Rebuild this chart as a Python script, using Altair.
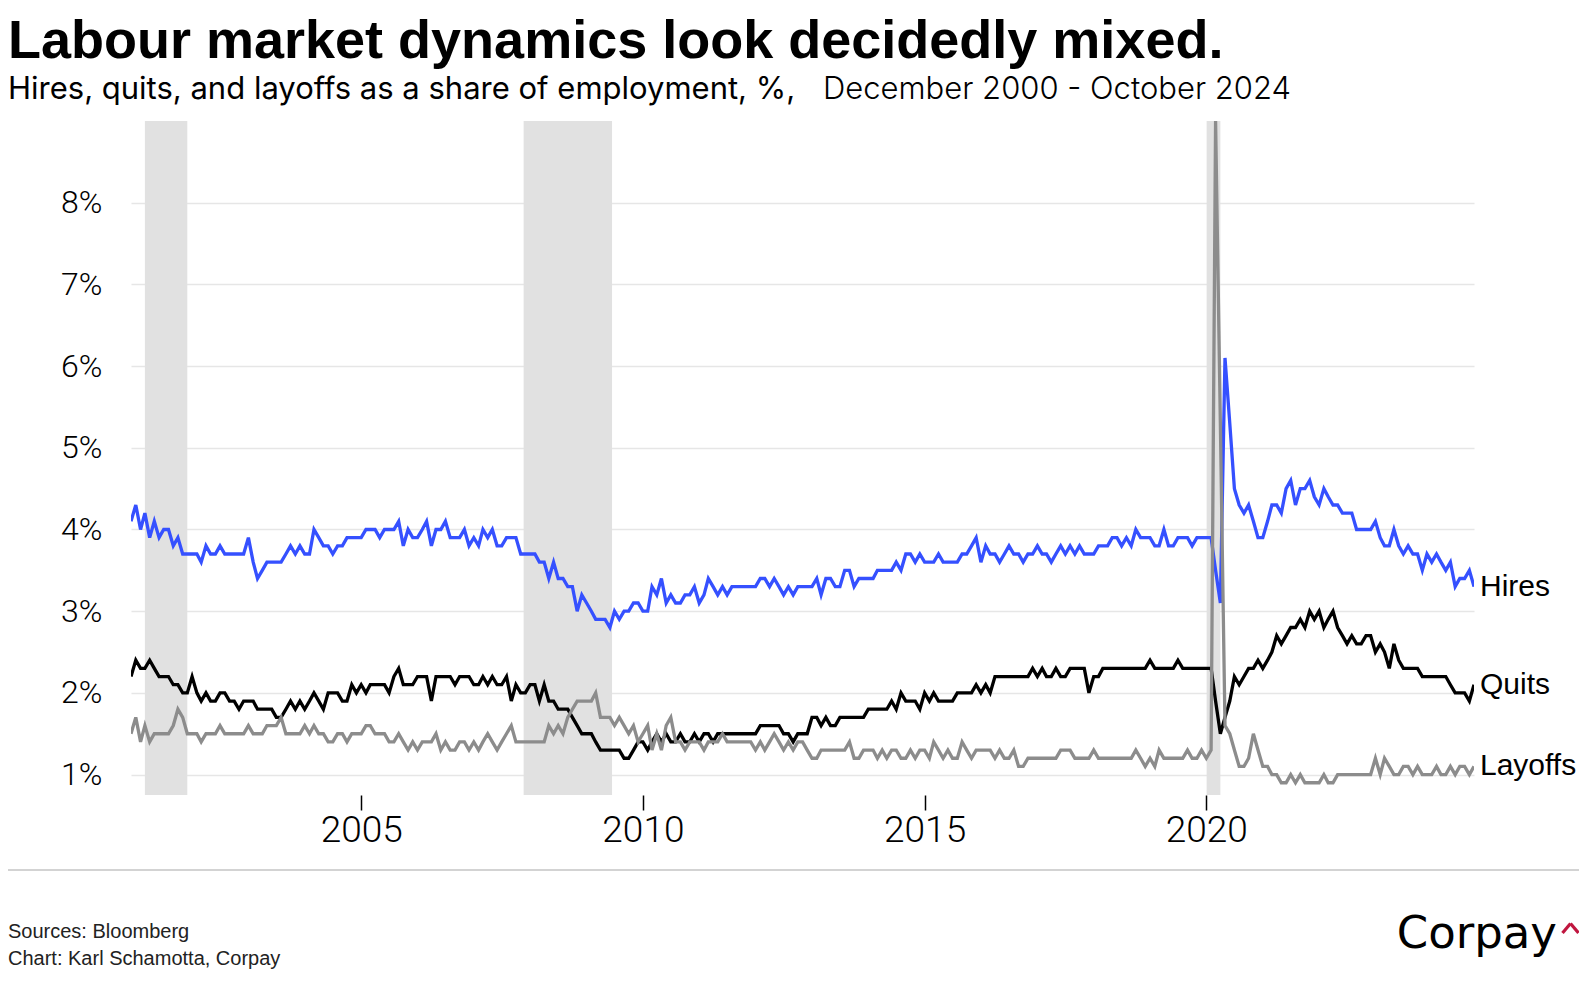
import altair as alt
import pandas as pd

# ---------------- data (monthly, Dec 2000 - Oct 2024) ----------------
months = pd.date_range("2000-12-01", periods=287, freq="MS").strftime("%Y-%m-%dT00:00:00").tolist()

hires = [
    4.1, 4.3, 4.0, 4.2, 3.9, 4.1, 3.9, 4.0, 4.0, 3.8, 3.9, 3.7,
    3.7, 3.7, 3.7, 3.6, 3.8, 3.7, 3.7, 3.8, 3.7, 3.7, 3.7, 3.7,
    3.7, 3.9, 3.6, 3.4, 3.5, 3.6, 3.6, 3.6, 3.6, 3.7, 3.8, 3.7,
    3.8, 3.7, 3.7, 4.0, 3.9, 3.8, 3.8, 3.7, 3.8, 3.8, 3.9, 3.9,
    3.9, 3.9, 4.0, 4.0, 4.0, 3.9, 4.0, 4.0, 4.0, 4.1, 3.8, 4.0,
    3.9, 3.9, 4.0, 4.1, 3.8, 4.0, 4.0, 4.1, 3.9, 3.9, 3.9, 4.0,
    3.8, 3.9, 3.8, 4.0, 3.9, 4.0, 3.8, 3.8, 3.9, 3.9, 3.9, 3.7,
    3.7, 3.7, 3.7, 3.6, 3.6, 3.4, 3.6, 3.4, 3.4, 3.3, 3.3, 3.0,
    3.2, 3.1, 3.0, 2.9, 2.9, 2.9, 2.8, 3.0, 2.9, 3.0, 3.0, 3.1,
    3.1, 3.0, 3.0, 3.3, 3.2, 3.4, 3.1, 3.2, 3.1, 3.1, 3.2, 3.2,
    3.3, 3.1, 3.2, 3.4, 3.3, 3.2, 3.3, 3.2, 3.3, 3.3, 3.3, 3.3,
    3.3, 3.3, 3.4, 3.4, 3.3, 3.4, 3.3, 3.2, 3.3, 3.2, 3.3, 3.3,
    3.3, 3.3, 3.4, 3.2, 3.4, 3.4, 3.3, 3.3, 3.5, 3.5, 3.3, 3.4,
    3.4, 3.4, 3.4, 3.5, 3.5, 3.5, 3.5, 3.6, 3.5, 3.7, 3.7, 3.6,
    3.7, 3.6, 3.6, 3.6, 3.7, 3.6, 3.6, 3.6, 3.6, 3.7, 3.7, 3.8,
    3.9, 3.6, 3.8, 3.7, 3.7, 3.6, 3.7, 3.8, 3.7, 3.7, 3.6, 3.7,
    3.7, 3.8, 3.7, 3.7, 3.6, 3.7, 3.8, 3.7, 3.8, 3.7, 3.8, 3.7,
    3.7, 3.7, 3.8, 3.8, 3.8, 3.9, 3.9, 3.8, 3.9, 3.8, 4.0, 3.9,
    3.9, 3.9, 3.8, 3.8, 4.0, 3.8, 3.8, 3.9, 3.9, 3.9, 3.8, 3.9,
    3.9, 3.9, 3.9, 3.5, 3.1, 6.1, 5.3, 4.5, 4.3, 4.2, 4.3, 4.1,
    3.9, 3.9, 4.1, 4.3, 4.3, 4.2, 4.5, 4.6, 4.3, 4.5, 4.5, 4.6,
    4.4, 4.3, 4.5, 4.4, 4.3, 4.3, 4.2, 4.2, 4.2, 4.0, 4.0, 4.0,
    4.0, 4.1, 3.9, 3.8, 3.8, 4.0, 3.8, 3.7, 3.8, 3.7, 3.7, 3.5,
    3.7, 3.6, 3.7, 3.6, 3.5, 3.6, 3.3, 3.4, 3.4, 3.5, 3.3,
]

quits = [
    2.2, 2.4, 2.3, 2.3, 2.4, 2.3, 2.2, 2.2, 2.2, 2.1, 2.1, 2.0,
    2.0, 2.2, 2.0, 1.9, 2.0, 1.9, 1.9, 2.0, 2.0, 1.9, 1.9, 1.8,
    1.9, 1.9, 1.9, 1.8, 1.8, 1.8, 1.8, 1.7, 1.7, 1.8, 1.9, 1.8,
    1.9, 1.8, 1.9, 2.0, 1.9, 1.8, 2.0, 2.0, 2.0, 1.9, 1.9, 2.1,
    2.0, 2.1, 2.0, 2.1, 2.1, 2.1, 2.1, 2.0, 2.2, 2.3, 2.1, 2.1,
    2.1, 2.2, 2.2, 2.2, 1.9, 2.2, 2.2, 2.2, 2.2, 2.1, 2.2, 2.2,
    2.2, 2.1, 2.1, 2.2, 2.1, 2.2, 2.1, 2.1, 2.2, 1.9, 2.1, 2.0,
    2.0, 2.1, 2.1, 1.9, 2.1, 1.9, 1.9, 1.8, 1.8, 1.8, 1.7, 1.6,
    1.5, 1.5, 1.5, 1.4, 1.3, 1.3, 1.3, 1.3, 1.3, 1.2, 1.2, 1.3,
    1.4, 1.4, 1.3, 1.4, 1.5, 1.4, 1.5, 1.4, 1.4, 1.5, 1.4, 1.4,
    1.5, 1.4, 1.5, 1.5, 1.4, 1.5, 1.5, 1.5, 1.5, 1.5, 1.5, 1.5,
    1.5, 1.5, 1.6, 1.6, 1.6, 1.6, 1.6, 1.5, 1.5, 1.4, 1.5, 1.5,
    1.5, 1.7, 1.7, 1.6, 1.7, 1.6, 1.6, 1.7, 1.7, 1.7, 1.7, 1.7,
    1.7, 1.8, 1.8, 1.8, 1.8, 1.8, 1.9, 1.8, 2.0, 1.9, 1.9, 1.9,
    1.8, 2.0, 1.9, 2.0, 1.9, 1.9, 1.9, 1.9, 2.0, 2.0, 2.0, 2.0,
    2.1, 2.0, 2.1, 2.0, 2.2, 2.2, 2.2, 2.2, 2.2, 2.2, 2.2, 2.2,
    2.3, 2.2, 2.3, 2.2, 2.2, 2.3, 2.2, 2.2, 2.3, 2.3, 2.3, 2.3,
    2.0, 2.2, 2.2, 2.3, 2.3, 2.3, 2.3, 2.3, 2.3, 2.3, 2.3, 2.3,
    2.3, 2.4, 2.3, 2.3, 2.3, 2.3, 2.3, 2.4, 2.3, 2.3, 2.3, 2.3,
    2.3, 2.3, 2.3, 1.9, 1.5, 1.7, 1.9, 2.2, 2.1, 2.2, 2.3, 2.3,
    2.4, 2.3, 2.4, 2.5, 2.7, 2.6, 2.7, 2.8, 2.8, 2.9, 2.8, 3.0,
    2.9, 3.0, 2.8, 2.9, 3.0, 2.8, 2.7, 2.6, 2.7, 2.6, 2.6, 2.7,
    2.7, 2.5, 2.6, 2.5, 2.3, 2.6, 2.4, 2.3, 2.3, 2.3, 2.3, 2.2,
    2.2, 2.2, 2.2, 2.2, 2.2, 2.1, 2.0, 2.0, 2.0, 1.9, 2.1,
]

layoffs = [
    1.5, 1.7, 1.4, 1.6, 1.4, 1.5, 1.5, 1.5, 1.5, 1.6, 1.8, 1.7,
    1.5, 1.5, 1.5, 1.4, 1.5, 1.5, 1.5, 1.6, 1.5, 1.5, 1.5, 1.5,
    1.5, 1.6, 1.5, 1.5, 1.5, 1.6, 1.6, 1.6, 1.7, 1.5, 1.5, 1.5,
    1.5, 1.6, 1.5, 1.6, 1.5, 1.5, 1.4, 1.4, 1.5, 1.5, 1.4, 1.5,
    1.5, 1.5, 1.6, 1.6, 1.5, 1.5, 1.5, 1.4, 1.4, 1.5, 1.4, 1.3,
    1.4, 1.3, 1.4, 1.4, 1.4, 1.5, 1.3, 1.4, 1.3, 1.3, 1.4, 1.4,
    1.3, 1.4, 1.3, 1.4, 1.5, 1.4, 1.3, 1.4, 1.5, 1.6, 1.4, 1.4,
    1.4, 1.4, 1.4, 1.4, 1.4, 1.6, 1.5, 1.6, 1.5, 1.7, 1.8, 1.9,
    1.9, 1.9, 1.9, 2.0, 1.7, 1.7, 1.7, 1.6, 1.7, 1.6, 1.5, 1.6,
    1.4, 1.5, 1.6, 1.3, 1.5, 1.3, 1.6, 1.7, 1.4, 1.4, 1.3, 1.4,
    1.4, 1.4, 1.3, 1.4, 1.4, 1.4, 1.5, 1.4, 1.4, 1.4, 1.4, 1.4,
    1.4, 1.3, 1.4, 1.3, 1.4, 1.5, 1.4, 1.3, 1.4, 1.3, 1.4, 1.4,
    1.3, 1.2, 1.2, 1.3, 1.3, 1.3, 1.3, 1.3, 1.3, 1.4, 1.2, 1.2,
    1.3, 1.3, 1.3, 1.2, 1.3, 1.2, 1.3, 1.3, 1.2, 1.2, 1.3, 1.2,
    1.3, 1.3, 1.2, 1.4, 1.3, 1.2, 1.3, 1.2, 1.2, 1.4, 1.3, 1.2,
    1.3, 1.3, 1.3, 1.3, 1.2, 1.3, 1.2, 1.2, 1.3, 1.1, 1.1, 1.2,
    1.2, 1.2, 1.2, 1.2, 1.2, 1.2, 1.3, 1.3, 1.3, 1.2, 1.2, 1.2,
    1.2, 1.3, 1.2, 1.2, 1.2, 1.2, 1.2, 1.2, 1.2, 1.2, 1.3, 1.2,
    1.1, 1.2, 1.1, 1.3, 1.2, 1.2, 1.2, 1.2, 1.2, 1.3, 1.2, 1.2,
    1.3, 1.2, 1.3, 9.0, 5.3, 1.6, 1.5, 1.3, 1.1, 1.1, 1.2, 1.5,
    1.3, 1.1, 1.1, 1.0, 1.0, 0.9, 0.9, 1.0, 0.9, 1.0, 0.9, 0.9,
    0.9, 0.9, 1.0, 0.9, 0.9, 1.0, 1.0, 1.0, 1.0, 1.0, 1.0, 1.0,
    1.0, 1.2, 1.0, 1.2, 1.1, 1.0, 1.0, 1.1, 1.1, 1.0, 1.1, 1.0,
    1.0, 1.0, 1.1, 1.0, 1.0, 1.1, 1.0, 1.1, 1.1, 1.0, 1.1,
]

series_names = ["Hires", "Quits", "Layoffs"]
series_colors = ["#3550ff", "#000000", "#8c8c8c"]

recession_start = ["2001-03-01T00:00:00", "2007-11-20T00:00:00", "2020-01-03T00:00:00"]
recession_end = ["2001-12-01T00:00:00", "2009-06-15T00:00:00", "2020-04-01T00:00:00"]

y_ticks = [1, 2, 3, 4, 5, 6, 7, 8]
x_tick_years = [2005, 2010, 2015, 2020]

title_text = "Labour market dynamics look decidedly mixed."
subtitle_main = "Hires, quits, and layoffs as a share of employment, %,"
subtitle_dates = "December 2000 - October 2024"
source_lines = ["Sources: Bloomberg", "Chart: Karl Schamotta, Corpay"]
logo_text = "Corpay"

# ---------------- tables ----------------
long = pd.DataFrame({
    "date": months * 3,
    "series": ["Hires"] * 287 + ["Quits"] * 287 + ["Layoffs"] * 287,
    "value": hires + quits + layoffs,
})
last = long.groupby("series", sort=False).tail(1)
rec = pd.DataFrame({"start": recession_start, "end": recession_end})

W, H = 1343, 674
AXFONT = "Roboto"
SANS = "Liberation Sans"

x_scale = alt.Scale(
    domain=[alt.DateTime(year=2000, month=12, date=1), alt.DateTime(year=2024, month=10, date=1)],
    nice=False,
)
y_scale = alt.Scale(domain=[0.75, 9.0], nice=False, zero=False)
color_scale = alt.Scale(domain=series_names, range=series_colors)

x_axis = alt.Axis(
    values=[alt.DateTime(year=y, month=1, date=1) for y in x_tick_years],
    format="%Y", title=None, grid=False, domain=False, ticks=True,
    tickSize=15, tickWidth=1.5, tickColor="#000000",
    labelFontSize=37, labelPadding=2, labelColor="#000000",
    labelFont=AXFONT, labelFontWeight=300,
)
y_axis = alt.Axis(
    values=y_ticks, labelExpr="datum.value + '%'", title=None,
    ticks=False, domain=False, labelPadding=29, labelFontSize=32,
    labelColor="#000000", labelFont=AXFONT, labelFontWeight=300,
    gridColor="#e6e6e6", gridWidth=1.5,
)

shade = alt.Chart(rec).mark_rect(color="#e1e1e1").encode(
    x=alt.X("start:T", scale=x_scale, axis=x_axis),
    x2="end:T",
    y=alt.value(0),
    y2=alt.value(H),
)

lines = []
for name in series_names:
    lines.append(
        alt.Chart(long).transform_filter(alt.datum.series == name)
        .mark_line(strokeWidth=3.3, clip=True, strokeJoin="miter")
        .encode(
            x=alt.X("date:T", scale=x_scale, axis=x_axis),
            y=alt.Y("value:Q", scale=y_scale, axis=y_axis),
            color=alt.Color("series:N", scale=color_scale, legend=None),
        )
    )

end_labels = alt.Chart(last).mark_text(
    align="left", baseline="middle", dx=6, fontSize=30, font=SANS, color="#000000"
).encode(
    x=alt.X("date:T", scale=x_scale),
    y=alt.Y("value:Q", scale=y_scale),
    text="series:N",
)


def note(txt, x, y, size, weight="normal", color="#000000", align="left", font=SANS):
    return alt.Chart(pd.DataFrame({"t": [txt]})).mark_text(
        align=align, baseline="alphabetic", fontSize=size, fontWeight=weight,
        color=color, font=font,
    ).encode(x=alt.value(x), y=alt.value(y), text="t:N")


def seg(x1, y1, x2, y2, color, width, cap="round"):
    return alt.Chart(pd.DataFrame({"a": [0]})).mark_rule(
        color=color, strokeWidth=width, strokeCap=cap
    ).encode(x=alt.value(x1), y=alt.value(y1), x2=alt.value(x2), y2=alt.value(y2))


separator = seg(-130, 749, 1452, 749, "#c4c4c4", 1.5)
caret = [
    seg(1431.5, 812, 1439.5, 802.5, "#c0163f", 3.2, "butt"),
    seg(1439.5, 802.5, 1447.5, 812, "#c0163f", 3.2, "butt"),
]

texts = [
    note(title_text, -123, -63.5, 54, weight="bold"),
    note(subtitle_main, -123, -22, 31, weight=400, font="Inter"),
    note(subtitle_dates, 692, -22, 31, weight=300, font="Inter"),
    note(source_lines[0], -123, 817, 20, color="#222222"),
    note(source_lines[1], -123, 844, 20, color="#222222"),
    note(logo_text, 1426, 827, 45, align="right", font="DejaVu Sans"),
]

chart = alt.layer(shade, *lines, end_labels, separator, *caret, *texts).properties(
    width=W, height=H,
    padding={"left": 123, "top": 113, "right": 105, "bottom": 190},
    autosize=alt.AutoSizeParams(type="none"),
    background="#ffffff",
).configure_view(stroke=None)

chart.save("out.html", embed_options={"renderer": "svg", "actions": False})
